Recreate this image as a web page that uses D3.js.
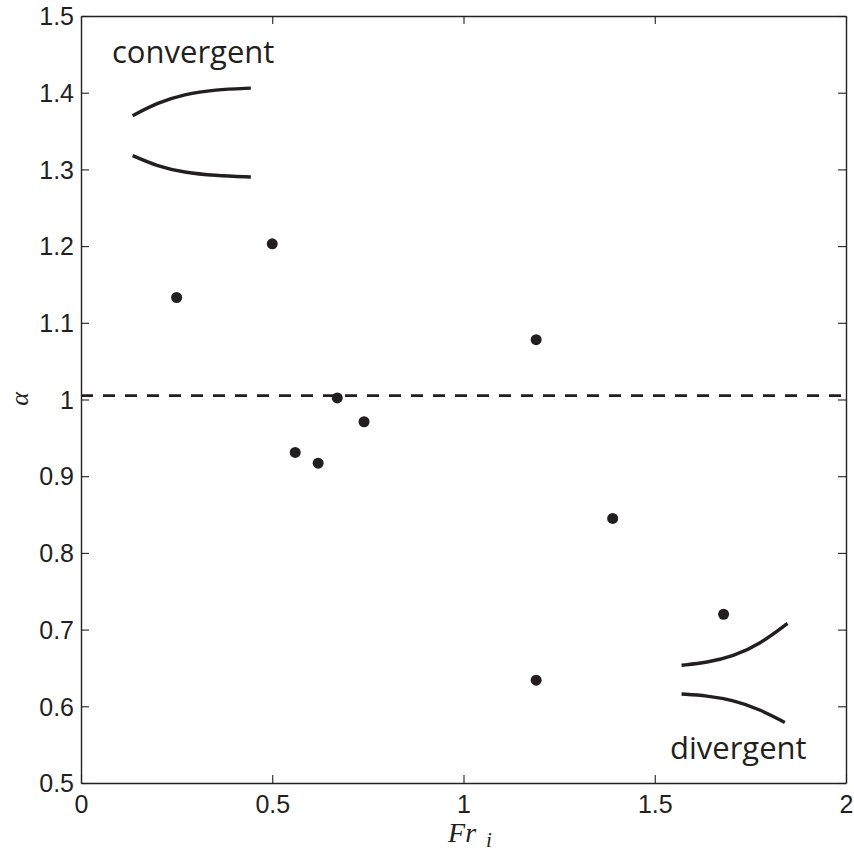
<!DOCTYPE html>
<html><head><meta charset="utf-8">
<script src="https://cdn.jsdelivr.net/npm/d3@7"></script>
<style>body{margin:0;background:#fff}svg{display:block}</style>
</head><body>
<svg id="c" width="854" height="852"></svg>
<script>
// Data
const frValues = [0.25, 0.50, 0.56, 0.62, 0.67, 0.74, 1.19, 1.19, 1.39, 1.68];
const alphaValues = [1.133, 1.203, 0.931, 0.917, 1.002, 0.971, 1.078, 0.634, 0.845, 0.720];
const refAlpha = 1.005;
const xTicks = [0, 0.5, 1, 1.5, 2];
const xTickLabels = ["0", "0.5", "1", "1.5", "2"];
const yTicks = [0.5, 0.6, 0.7, 0.8, 0.9, 1.0, 1.1, 1.2, 1.3, 1.4, 1.5];
const yTickLabels = ["0.5", "0.6", "0.7", "0.8", "0.9", "1", "1.1", "1.2", "1.3", "1.4", "1.5"];
// schematic glyphs (data units)
const convX = [0.135, 0.200, 0.270, 0.350, 0.444];
const convUpperY = [1.370, 1.387, 1.398, 1.404, 1.406];
const convLowerY = [1.318, 1.304, 1.296, 1.292, 1.290];
const divUpperX = [1.570, 1.636, 1.705, 1.775, 1.847];
const divUpperY = [0.6535, 0.657, 0.665, 0.681, 0.708];
const divLowerX = [1.570, 1.636, 1.705, 1.775, 1.840];
const divLowerY = [0.616, 0.614, 0.608, 0.596, 0.579];

const ink = "#231f20";
const L = 81, R = 846, T = 16, B = 783;
const svg = d3.select("#c");
const x = d3.scaleLinear().domain([0, 2]).range([L, R]);
const y = d3.scaleLinear().domain([0.5, 1.5]).range([B, T]);

const tickFont = "'Liberation Sans', Arial, sans-serif";

// Axes (MATLAB box style with inward ticks)
const axB = svg.append("g").attr("transform", `translate(0,${B})`)
  .call(d3.axisBottom(x).tickValues(xTicks).tickFormat((d,i)=>xTickLabels[i]).tickSizeInner(-8).tickSizeOuter(0).tickPadding(12));
const axT = svg.append("g").attr("transform", `translate(0,${T})`)
  .call(d3.axisTop(x).tickValues(xTicks).tickFormat("").tickSizeInner(-8).tickSizeOuter(0));
const axL = svg.append("g").attr("transform", `translate(${L},0)`)
  .call(d3.axisLeft(y).tickValues(yTicks).tickFormat((d,i)=>yTickLabels[i]).tickSizeInner(-8).tickSizeOuter(0).tickPadding(7));
const axR = svg.append("g").attr("transform", `translate(${R},0)`)
  .call(d3.axisRight(y).tickValues(yTicks).tickFormat("").tickSizeInner(-8).tickSizeOuter(0));
[axB, axT, axL, axR].forEach(g => {
  g.select(".domain").attr("stroke", ink).attr("stroke-width", 1.4);
  g.selectAll(".tick line").attr("stroke", ink).attr("stroke-width", 1.1);
  g.selectAll(".tick text").attr("fill", ink).style("font-family", tickFont).style("font-size", "25px");
});
axB.selectAll(".tick text").attr("dy", "0.72em");
axL.selectAll(".tick text").attr("dy", "0.35em");

// dashed reference line
svg.append("line")
  .attr("x1", x(0)).attr("x2", x(2))
  .attr("y1", y(refAlpha)).attr("y2", y(refAlpha))
  .attr("stroke", ink).attr("stroke-width", 2.6).attr("stroke-dasharray", "12,10");

// points
svg.append("g").selectAll("circle").data(frValues.map((f,i)=>[f, alphaValues[i]])).join("circle")
  .attr("cx", d=>x(d[0])).attr("cy", d=>y(d[1])).attr("r", 5.5).attr("fill", ink);

// schematic curves
const line = d3.line().x(d=>x(d[0])).y(d=>y(d[1])).curve(d3.curveBasis);
const curves = [
  convX.map((v,i)=>[v, convUpperY[i]]),
  convX.map((v,i)=>[v, convLowerY[i]]),
  divUpperX.map((v,i)=>[v, divUpperY[i]]),
  divLowerX.map((v,i)=>[v, divLowerY[i]])
];
svg.append("g").selectAll("path").data(curves).join("path")
  .attr("d", line).attr("fill", "none").attr("stroke", ink).attr("stroke-width", 3.4);

// annotations
const annFont = "'Open Sans', 'Noto Sans', sans-serif";
svg.append("text").attr("x", 112).attr("y", 63).attr("fill", ink)
  .style("font-family", annFont).style("font-size", "31px").text("convergent");
svg.append("text").attr("x", 670).attr("y", 759).attr("fill", ink)
  .style("font-family", annFont).style("font-size", "31px").text("divergent");

// axis labels
const serif = "'Liberation Serif', 'DejaVu Serif', serif";
const xl = svg.append("text").attr("x", 470).attr("y", 842).attr("text-anchor", "middle").attr("fill", ink)
  .style("font-family", serif).style("font-style", "italic").style("font-size", "28px");
xl.append("tspan").text("Fr");
xl.append("tspan").attr("dx", 10).attr("dy", 5).style("font-size", "21px").text("i");
svg.append("text").attr("transform", "translate(28,399) rotate(-90)").attr("text-anchor", "middle")
  .attr("fill", ink).style("font-family", serif).style("font-style", "italic").style("font-size", "26px").text("α");
</script>
</body></html>
